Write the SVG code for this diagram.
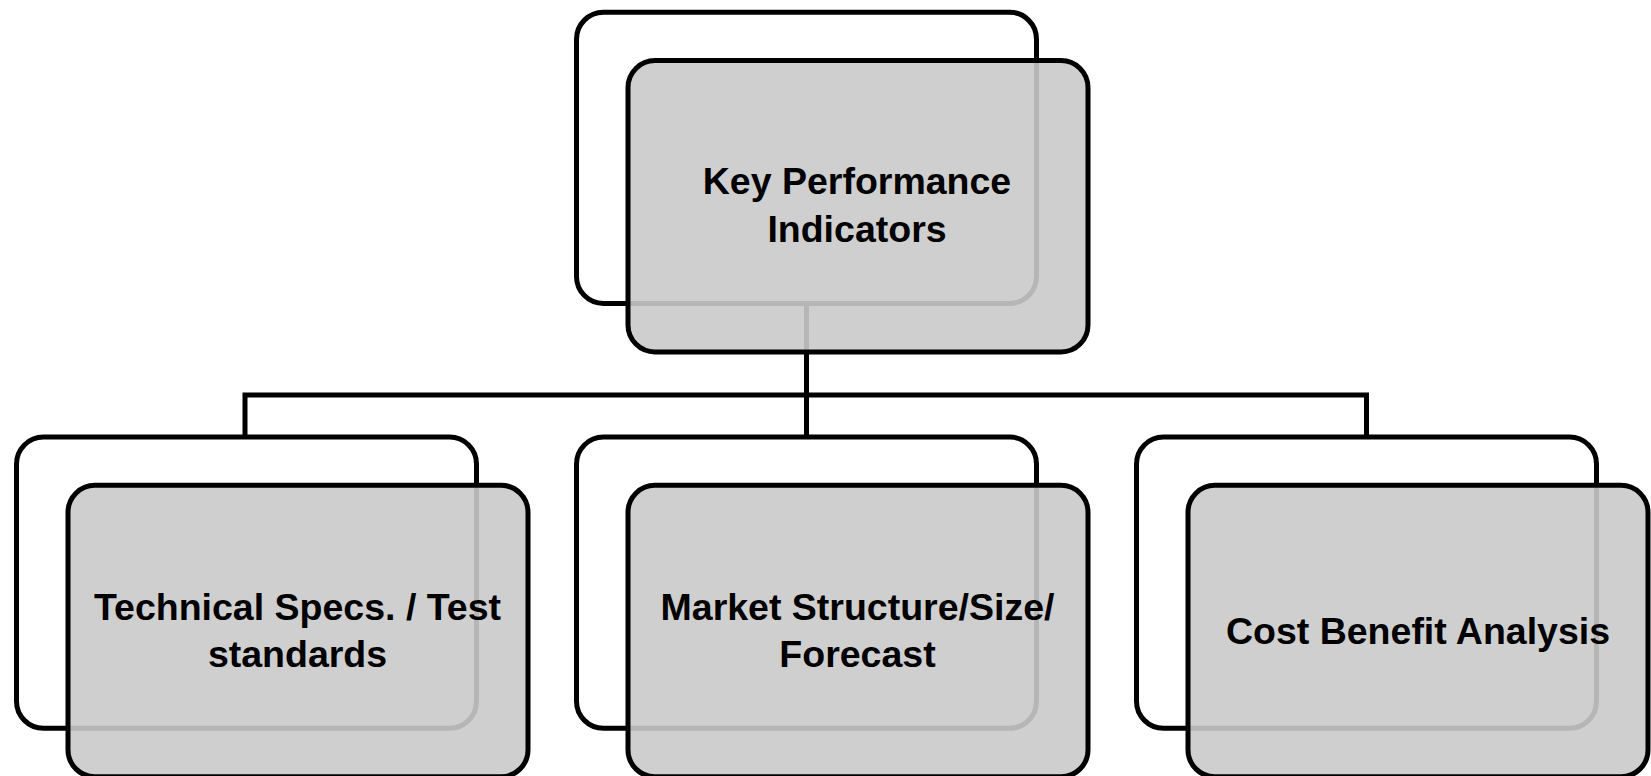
<svg xmlns="http://www.w3.org/2000/svg" width="1651" height="776" viewBox="0 0 1651 776">
  <style>
    .back { fill: #ffffff; stroke: #000000; stroke-width: 5; }
    .front { fill: #cacaca; fill-opacity: 0.9; stroke: #000000; stroke-width: 5; }
    .conn { fill: none; stroke: #000000; stroke-width: 5; stroke-linejoin: miter; }
    .lbl { font-family: "Liberation Sans", Arial, sans-serif; font-weight: bold; font-size: 37.5px; fill: #000000; text-anchor: middle; }
  </style>
  <rect width="1651" height="776" fill="#ffffff"/>
  <g id="connectors">
    <path class="conn" d="M806.5 303.5 V437"/>
    <path class="conn" d="M245 437 V395 H1366.5 V437"/>
  </g>
  <g id="node-kpi">
    <rect class="back" x="576.5" y="12.2" width="460" height="291.3" rx="27" ry="27"/>
    <rect class="front" x="628" y="60.5" width="460" height="291.5" rx="27" ry="27"/>
    <text class="lbl" x="857" y="194.3">Key Performance</text>
    <text class="lbl" x="857" y="241.7">Indicators</text>
  </g>
  <g id="node-tech">
    <rect class="back" x="16.5" y="437" width="460" height="291.3" rx="27" ry="27"/>
    <rect class="front" x="68" y="485.3" width="460" height="291.5" rx="27" ry="27"/>
    <text class="lbl" x="297.5" y="620">Technical Specs. / Test</text>
    <text class="lbl" x="297.5" y="667">standards</text>
  </g>
  <g id="node-market">
    <rect class="back" x="576.5" y="437" width="460" height="291.3" rx="27" ry="27"/>
    <rect class="front" x="628" y="485.3" width="460" height="291.5" rx="27" ry="27"/>
    <text class="lbl" x="857.5" y="620">Market Structure/Size/</text>
    <text class="lbl" x="857.5" y="667">Forecast</text>
  </g>
  <g id="node-cost">
    <rect class="back" x="1136.5" y="437" width="460" height="291.3" rx="27" ry="27"/>
    <rect class="front" x="1188" y="485.3" width="460" height="291.5" rx="27" ry="27"/>
    <text class="lbl" x="1418" y="644">Cost Benefit Analysis</text>
  </g>
</svg>
